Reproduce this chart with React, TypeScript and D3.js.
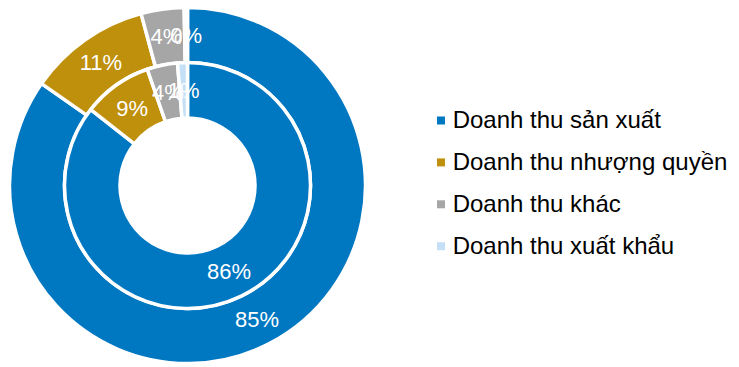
import React from "react";
import * as d3 from "d3";

const categories = ["Doanh thu sản xuất", "Doanh thu nhượng quyền", "Doanh thu khác", "Doanh thu xuất khẩu"];
const outerValues = [84.7, 11.1, 3.9, 0.3];
const innerValues = [85.6, 9.1, 4.0, 1.3];
const outerLabels = ["85%", "11%", "4%", "0%"];
const innerLabels = ["86%", "9%", "4%", "1%"];
const colors = ["#0077C1", "#BF900B", "#A6A6A6", "#C5E0F6"];

const W = 739;
const H = 367;
const cx = 187.5;
const cy = 185.5;
const R = 178;
const ringMid = 123;
const hole = 67.5;

export default function App() {
  const pie = d3.pie<number>().sort(null).value((d) => d);
  const outerArcs = pie(outerValues);
  const innerArcs = pie(innerValues);
  const outerArc = d3.arc<d3.PieArcDatum<number>>().innerRadius(ringMid).outerRadius(R);
  const innerArc = d3.arc<d3.PieArcDatum<number>>().innerRadius(hole).outerRadius(ringMid);
  const font = "'Liberation Sans', Arial, sans-serif";
  return (
    <svg width={W} height={H} style={{ position: "absolute", left: 0, top: 0 }} fontFamily={font}>
      <g transform={`translate(${cx},${cy})`}>
        {outerArcs.map((a, i) => (
          <path key={"o" + i} d={outerArc(a) || ""} fill={colors[i]} stroke="#fff" strokeWidth={3.5} strokeLinejoin="round" />
        ))}
        {innerArcs.map((a, i) => (
          <path key={"i" + i} d={innerArc(a) || ""} fill={colors[i]} stroke="#fff" strokeWidth={3.5} strokeLinejoin="round" />
        ))}
        {outerArcs.map((a, i) => {
          const [x, y] = outerArc.centroid(a);
          return (
            <text key={"ol" + i} x={x} y={y} dy="0.35em" textAnchor="middle" fill="#fff" fontSize={22}>
              {outerLabels[i]}
            </text>
          );
        })}
        {innerArcs.map((a, i) => {
          const [x, y] = innerArc.centroid(a);
          return (
            <text key={"il" + i} x={x} y={y} dy="0.35em" textAnchor="middle" fill="#fff" fontSize={22}>
              {innerLabels[i]}
            </text>
          );
        })}
      </g>
      <g>
        {categories.map((c, i) => (
          <g key={c} transform={`translate(437,${128.3 + i * 41.9})`}>
            <rect x={0} y={-11.8} width={8} height={8} fill={colors[i]} />
            <text x={15.7} y={0} fontSize={24} fill="#000">
              {c}
            </text>
          </g>
        ))}
      </g>
    </svg>
  );
}
